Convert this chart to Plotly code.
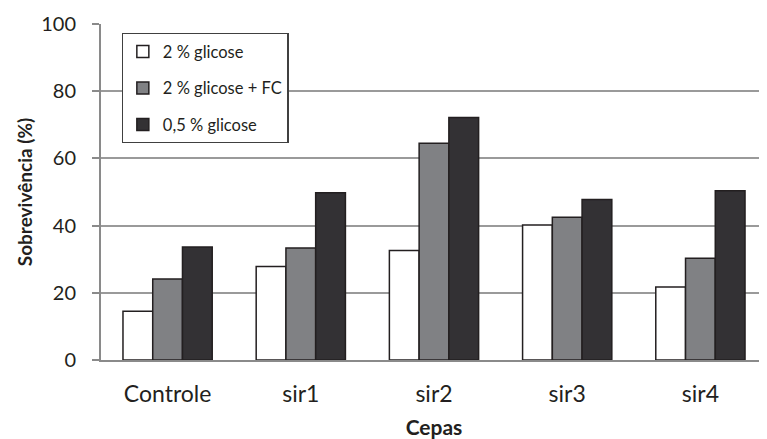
import plotly.graph_objects as go

categories = ["Controle", "sir1", "sir2", "sir3", "sir4"]
series_names = ["2 % glicose", "2 % glicose + FC", "0,5 % glicose"]
glicose_2 = [14.5, 27.8, 32.6, 40.2, 21.7]
glicose_2_fc = [24.1, 33.3, 64.5, 42.5, 30.3]
glicose_05 = [33.6, 49.8, 72.2, 47.8, 50.4]
y_ticks = [0, 20, 40, 60, 80, 100]

colors = ["#ffffff", "#808184", "#333134"]
FONT = "Lato"
TXT = "#231f20"

fig = go.Figure()
for i, (name, vals) in enumerate(zip(series_names, [glicose_2, glicose_2_fc, glicose_05])):
    fig.add_trace(go.Bar(
        x=categories, y=vals, name=name, legendgroup=f"g{i}",
        marker=dict(color=colors[i], line=dict(color=TXT, width=1.5)),
    ))

# page body has an 8px default margin, so the figure is sized to fit the window
fig.update_layout(
    width=759, height=431,
    margin=dict(l=93, r=0, t=15.5, b=78.5, autoexpand=False),
    paper_bgcolor="white", plot_bgcolor="white",
    barmode="group", bargap=0.33, bargroupgap=0,
    font=dict(family=FONT, color=TXT),
    showlegend=True,
    legend=dict(
        x=0.031, y=0.973, xanchor="left", yanchor="top",
        bgcolor="white", bordercolor="#404040", borderwidth=1.2,
        font=dict(size=16.5, family=FONT, color=TXT),
        tracegroupgap=12, traceorder="grouped",
    ),
    xaxis=dict(
        automargin=False,
        showline=True, linecolor="#8a8a8a", linewidth=2,
        ticks="", ticklabelstandoff=12,
        tickfont=dict(size=23, family=FONT, color=TXT),
        title=dict(text="<b>Cepas</b>", font=dict(size=21, family=FONT, color=TXT), standoff=19),
    ),
    yaxis=dict(
        automargin=False,
        range=[0, 100], tickvals=y_ticks,
        showline=True, linecolor="#8a8a8a", linewidth=2,
        ticks="outside", ticklen=7, tickcolor="#8a8a8a", tickwidth=2,
        ticklabelstandoff=12,
        showgrid=True, gridcolor="#9a9a9a", gridwidth=1.5,
        zeroline=False,
        tickfont=dict(size=20, family=FONT, color=TXT),
        title=dict(text="<b>Sobrevivência (%)</b>", font=dict(size=19, family=FONT, color=TXT), standoff=4),
    ),
)

fig.write_html("out.html")
